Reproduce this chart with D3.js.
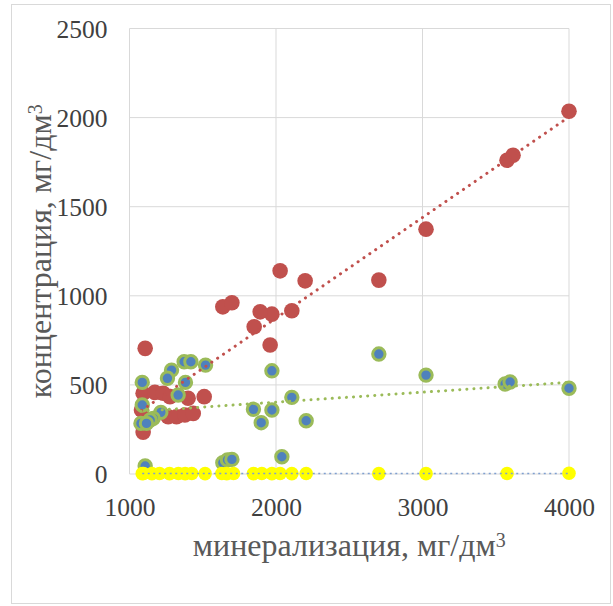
<!DOCTYPE html>
<html>
<head>
<meta charset="utf-8">
<script src="https://cdn.jsdelivr.net/npm/d3@7"></script>
<style>
  body { margin: 0; background: #fff; }
  text { font-family: "Liberation Serif", "Times New Roman", serif; }
</style>
</head>
<body>
<div id="chart"></div>
<script>
// series values: [минерализация, концентрация]
var redPoints = [
    [4000, 2036], [3577, 1761], [3618, 1789], [3024, 1374], [2702, 1088],
    [2028, 1140], [2199, 1084], [2108, 916], [1972, 897], [1892, 910],
    [1851, 826], [1960, 724], [1637, 938], [1699, 961], [1107, 705],
    [1510, 434], [1093, 453], [1173, 458], [1230, 453], [1276, 434],
    [1400, 425], [1082, 359], [1264, 321], [1321, 321], [1378, 331],
    [1435, 340], [1093, 235]
];
var bluePoints = [
    [4000, 481], [3564, 505], [3598, 516], [3024, 555], [2702, 673],
    [2108, 430], [2206, 299], [2040, 97], [1972, 579], [1846, 363],
    [1972, 359], [1899, 288], [1637, 63], [1669, 79], [1699, 82],
    [1107, 45], [1519, 611], [1373, 630], [1419, 630], [1287, 583],
    [1259, 537], [1382, 514], [1087, 514], [1332, 443], [1087, 387],
    [1214, 346], [1162, 312], [1141, 303], [1078, 284], [1116, 284]
];
var yellowPoints = [
    [1087, 2], [1096, 3], [1153, 2], [1205, 3], [1273, 2], [1334, 3],
    [1380, 2], [1425, 3], [1516, 2], [1630, 3], [1664, 2], [1710, 3],
    [1846, 2], [1903, 3], [1972, 2], [2028, 3], [2108, 2], [2206, 3],
    [2702, 2], [3024, 2], [3577, 3], [4000, 4]
];
var xTicks = [1000, 2000, 3000, 4000];
var yTicks = [0, 500, 1000, 1500, 2000, 2500];

var margin = {top: 28.5, right: 44, bottom: 132, left: 129.5};
var W = 613, H = 606;
var width = W - margin.left - margin.right;
var height = H - margin.top - margin.bottom;

var x = d3.scaleLinear().domain([1000, 4000]).range([0, width]);
var y = d3.scaleLinear().domain([0, 2500]).range([height, 0]);

var svg = d3.select("#chart").append("svg")
    .attr("width", W)
    .attr("height", H);

// outer frame
svg.append("rect")
    .attr("x", 11.5).attr("y", 4.5)
    .attr("width", 599).attr("height", 599)
    .attr("fill", "none")
    .attr("stroke", "#d9d9d9");

var g = svg.append("g")
    .attr("transform", "translate(" + margin.left + "," + margin.top + ")");

// gridlines
g.selectAll(".hgrid").data(yTicks).enter().append("line")
    .attr("x1", 0).attr("x2", width)
    .attr("y1", function (d) { return y(d); })
    .attr("y2", function (d) { return y(d); })
    .attr("stroke", "#d9d9d9");
g.selectAll(".vgrid").data(xTicks).enter().append("line")
    .attr("y1", 0).attr("y2", height)
    .attr("x1", function (d) { return x(d); })
    .attr("x2", function (d) { return x(d); })
    .attr("stroke", "#d9d9d9");

// axes (labels only, Excel style)
var xAxis = g.append("g")
    .attr("transform", "translate(0," + height + ")")
    .call(d3.axisBottom(x).tickValues(xTicks).tickSize(0).tickPadding(24).tickFormat(d3.format("d")));
var yAxis = g.append("g")
    .call(d3.axisLeft(y).tickValues(yTicks).tickSize(0).tickPadding(22).tickFormat(d3.format("d")));
[xAxis, yAxis].forEach(function (a) {
    a.select(".domain").remove();
    a.selectAll("text")
        .style("font-family", "'Liberation Serif', serif")
        .style("font-size", "25.5px")
        .attr("fill", "#404040");
});
yAxis.selectAll("text").attr("dy", "0.34em");

// least squares trend line, like Excel's linear trendline
function trend(pts) {
    var mx = d3.mean(pts, function (d) { return d[0]; });
    var my = d3.mean(pts, function (d) { return d[1]; });
    var sxy = d3.sum(pts, function (d) { return (d[0] - mx) * (d[1] - my); });
    var sxx = d3.sum(pts, function (d) { return (d[0] - mx) * (d[0] - mx); });
    var b = sxy / sxx, a = my - b * mx;
    var ext = d3.extent(pts, function (d) { return d[0]; });
    return ext.map(function (v) { return [v, a + b * v]; });
}

var line = d3.line()
    .x(function (d) { return x(d[0]); })
    .y(function (d) { return y(d[1]); });

// markers
g.selectAll(".red").data(redPoints).enter().append("circle")
    .attr("cx", function (d) { return x(d[0]); })
    .attr("cy", function (d) { return y(d[1]); })
    .attr("r", 7.8)
    .attr("fill", "#c0504d");

g.selectAll(".blue").data(bluePoints).enter().append("circle")
    .attr("cx", function (d) { return x(d[0]); })
    .attr("cy", function (d) { return y(d[1]); })
    .attr("r", 6.2)
    .attr("fill", "#4f81bd")
    .attr("stroke", "#9bbb59")
    .attr("stroke-width", 3);

g.selectAll(".yellow").data(yellowPoints).enter().append("circle")
    .attr("cx", function (d) { return x(d[0]); })
    .attr("cy", function (d) { return y(d[1]); })
    .attr("r", 6.8)
    .attr("fill", "#ffff00");

// trend lines
g.append("path")
    .datum(trend(redPoints))
    .attr("d", line)
    .attr("fill", "none")
    .attr("stroke", "#c0504d")
    .attr("stroke-width", 3)
    .attr("stroke-linecap", "round")
    .attr("stroke-dasharray", "0.1,7");
g.append("path")
    .datum(trend(bluePoints))
    .attr("d", line)
    .attr("fill", "none")
    .attr("stroke", "#9bbb59")
    .attr("stroke-width", 3)
    .attr("stroke-linecap", "round")
    .attr("stroke-dasharray", "0.1,7");
g.append("path")
    .datum(trend(yellowPoints))
    .attr("d", line)
    .attr("fill", "none")
    .attr("stroke", "#7f9fd0")
    .attr("stroke-width", 1.5)
    .attr("stroke-dasharray", "2,3.5");

// axis titles
var xt = svg.append("text")
    .attr("x", margin.left + width / 2)
    .attr("y", 556)
    .attr("text-anchor", "middle")
    .attr("fill", "#595959")
    .style("font-size", "32px");
xt.append("tspan").text("минерализация, мг/дм");
xt.append("tspan").attr("dy", "-0.45em").style("font-size", "20px").text("3");

var yt = svg.append("text")
    .attr("transform", "translate(51," + (margin.top + height / 2) + ") rotate(-90)")
    .attr("text-anchor", "middle")
    .attr("fill", "#595959")
    .style("font-size", "32px");
yt.append("tspan").text("концентрация, мг/дм");
yt.append("tspan").attr("dy", "-0.45em").style("font-size", "20px").text("3");
</script>
</body>
</html>
